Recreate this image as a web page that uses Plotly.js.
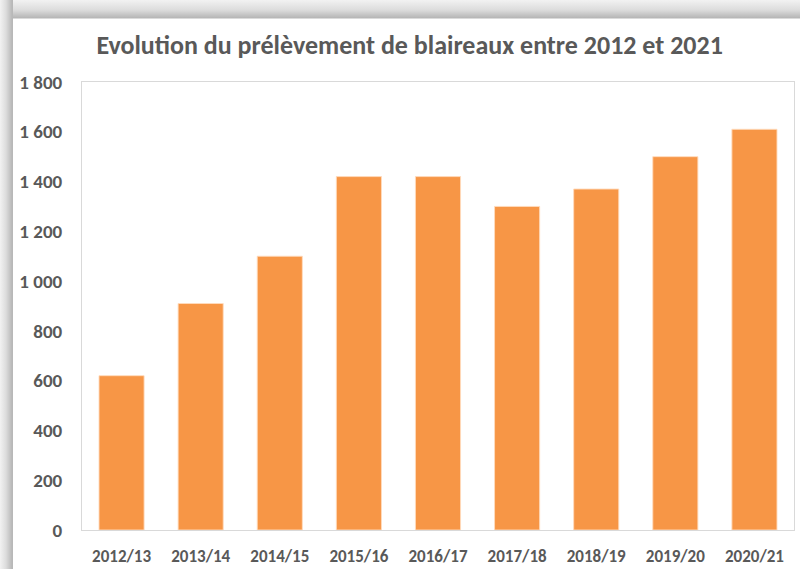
<!DOCTYPE html>
<html>
<head>
<meta charset="utf-8">
<script src="https://cdn.plot.ly/plotly-3.0.1.min.js"></script>
<style>
  html, body { margin: 0; padding: 0; width: 800px; height: 569px; overflow: hidden; background: #ffffff; }
  #frame { position: absolute; left: 0; top: 0; width: 800px; height: 569px;
           background: linear-gradient(to bottom, #f2f2f2 0px, #dcdcdc 10px, #b5b5b5 18px, #ffffff 19px); }
  #leftband { position: absolute; left: 0; top: 0; width: 13px; height: 569px;
           background: linear-gradient(to right, #f2f2f2 0px, #dcdcdc 6px, #b8b8b8 12px); }
  #chart { position: absolute; left: 13px; top: 19px; width: 787px; height: 550px; background: #fff; }
</style>
</head>
<body>
<div id="frame"></div>
<div id="leftband"></div>
<div id="chart"></div>
<script>
const categories = ["2012/13", "2013/14", "2014/15", "2015/16", "2016/17", "2017/18", "2018/19", "2019/20", "2020/21"];
const prelevements = [620, 910, 1100, 1420, 1420, 1300, 1370, 1500, 1610];
const yTicks = [0, 200, 400, 600, 800, 1000, 1200, 1400, 1600, 1800];
const titleText = "Evolution du prélèvement de blaireaux entre 2012 et 2021";

const fontFam = "Carlito, 'Open Sans', 'Noto Sans', sans-serif";

Plotly.newPlot("chart", [{
  type: "bar",
  x: categories,
  y: prelevements,
  marker: { color: "#F79646", line: { color: "rgba(255,220,190,0.9)", width: 1 } },
  hoverinfo: "x+y"
}], {
  width: 787, height: 550,
  margin: { l: 69, r: 6, t: 63, b: 39, pad: 0 },
  paper_bgcolor: "#ffffff",
  plot_bgcolor: "#ffffff",
  separators: ", ",
  bargap: 0.43,
  showlegend: false,
  title: {
    text: titleText,
    font: { family: fontFam, size: 26, color: "#595959", weight: "bold" },
    xref: "container", yref: "container",
    x: 0.504, xanchor: "center", y: 0.953, yanchor: "middle"
  },
  xaxis: {
    type: "category",
    showgrid: false,
    showline: true, linecolor: "#d9d9d9", linewidth: 1, mirror: true,
    ticks: "", ticklabelstandoff: 11,
    tickfont: { family: fontFam, size: 17, color: "#595959", weight: "bold" },
    zeroline: false
  },
  yaxis: {
    range: [0, 1800],
    tickvals: yTicks,
    tickformat: ",d",
    showgrid: false,
    showline: true, linecolor: "#d9d9d9", linewidth: 1, mirror: true,
    ticks: "", ticklabelstandoff: 15,
    tickfont: { family: fontFam, size: 19, color: "#595959", weight: "bold" },
    zeroline: false
  }
}, { displayModeBar: false, staticPlot: true });
</script>
</body>
</html>
